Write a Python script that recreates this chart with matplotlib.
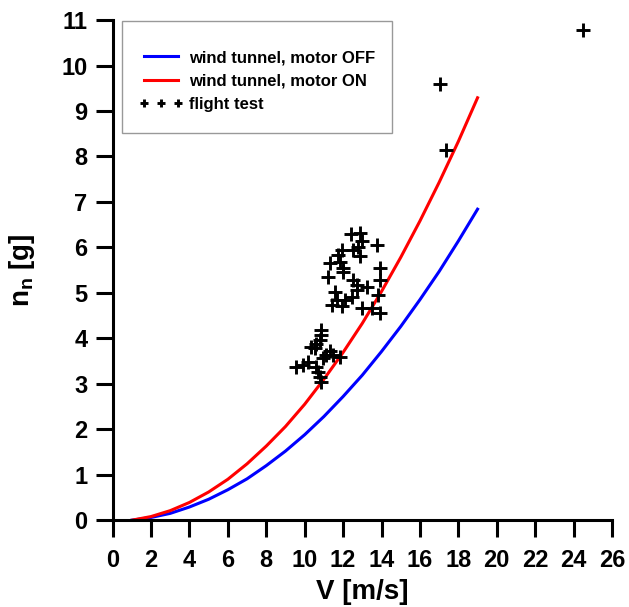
import numpy as np
import matplotlib
matplotlib.use("Agg")
from matplotlib import pyplot as plt
from matplotlib.patches import Rectangle

plt.rcParams['font.family'] = ['Liberation Sans', 'DejaVu Sans']
plt.rcParams['font.weight'] = 'bold'
plt.rcParams['mathtext.fontset'] = 'custom'
plt.rcParams['mathtext.sf'] = 'Liberation Sans'

# wind tunnel curves
v_tunnel = [1, 2, 3, 4, 5, 6, 7, 8, 9, 10, 11, 12, 13, 14, 15, 16, 17, 18, 19]
n_off = [0.0, 0.06, 0.15, 0.29, 0.46, 0.67, 0.91, 1.20, 1.52, 1.88, 2.28,
         2.72, 3.19, 3.71, 4.26, 4.85, 5.47, 6.14, 6.84]
n_on = [0.0, 0.08, 0.21, 0.39, 0.62, 0.90, 1.24, 1.63, 2.06, 2.55, 3.10,
        3.69, 4.33, 5.03, 5.78, 6.58, 7.43, 8.33, 9.29]

# flight test points
v_flight = [12.40, 12.86, 12.97, 13.75, 12.76, 12.50, 11.93, 11.72, 12.86, 11.30,
            11.82, 11.98, 11.98, 13.91, 11.20, 13.91, 12.50, 12.71, 13.23, 11.56,
            12.71, 13.80, 12.45, 12.08, 11.67, 11.41, 11.93, 12.97, 13.49, 13.91,
            10.87, 10.87, 10.78, 10.61, 10.35, 10.52, 11.30, 11.13, 11.46, 11.82,
            10.94, 10.16, 9.90, 9.57, 10.61, 10.68, 10.78, 10.87,
            17.03, 17.34, 24.48]
n_flight = [6.29, 6.31, 6.14, 6.05, 6.01, 5.94, 5.94, 5.83, 5.81, 5.65,
            5.68, 5.54, 5.46, 5.54, 5.35, 5.28, 5.28, 5.17, 5.13, 5.02,
            5.06, 4.95, 4.91, 4.84, 4.84, 4.73, 4.71, 4.66, 4.66, 4.55,
            4.18, 4.07, 3.96, 3.87, 3.81, 3.78, 3.72, 3.63, 3.63, 3.59,
            3.56, 3.48, 3.41, 3.37, 3.37, 3.26, 3.15, 3.04,
            9.59, 8.14, 10.78]

fig = plt.figure(figsize=(6.29, 6.07), dpi=100)
ax = fig.add_axes([0.179, 0.143, 0.794, 0.824])

ax.plot(v_tunnel, n_off, color='#0000ff', lw=2.2, label='wind tunnel, motor OFF')
ax.plot(v_tunnel, n_on, color='#ff0000', lw=2.2, label='wind tunnel, motor ON')
ax.plot(v_flight, n_flight, ls='none', marker='+', ms=9.5, mew=2.1, color='black',
        label='flight test')

ax.set_xlim(0, 26)
ax.set_ylim(0, 11)
ax.set_xticks(np.arange(0, 27, 2))
ax.set_yticks(np.arange(0, 12, 1))

for s in ['top', 'right']:
  ax.spines[s].set_visible(False)
for s in ['left', 'bottom']:
  ax.spines[s].set_linewidth(2.2)

ax.tick_params(axis='both', direction='out', length=12, width=2.2)
ax.tick_params(axis='x', labelsize=17, pad=9)
ax.tick_params(axis='y', labelsize=17, pad=6)
for lab in ax.get_xticklabels() + ax.get_yticklabels():
  lab.set_fontweight('bold')

ax.set_xlabel('V [m/s]', fontsize=20, fontweight='bold')
ax.set_ylabel(r'n$_\mathsf{n}$ [g]', fontsize=20, fontweight='bold')
ax.xaxis.set_label_coords(0.5, -0.118)
ax.yaxis.set_label_coords(-0.152, 0.5)

# legend frame drawn separately (more room top/bottom than at the sides)
ax.add_patch(Rectangle((0.018, 0.774), 0.541, 0.224, transform=ax.transAxes,
                       facecolor='white', edgecolor='#999999', lw=1.0, zorder=4))
leg = ax.legend(loc='upper left', bbox_to_anchor=(0.052, 0.94), frameon=False,
                prop={'size': 12, 'weight': 'bold'}, numpoints=3, markerscale=0.6,
                handlelength=2.65, handletextpad=0.36, borderpad=0, labelspacing=0.5,
                borderaxespad=0)
leg.set_zorder(5)

plt.savefig('out.png', dpi=100)
